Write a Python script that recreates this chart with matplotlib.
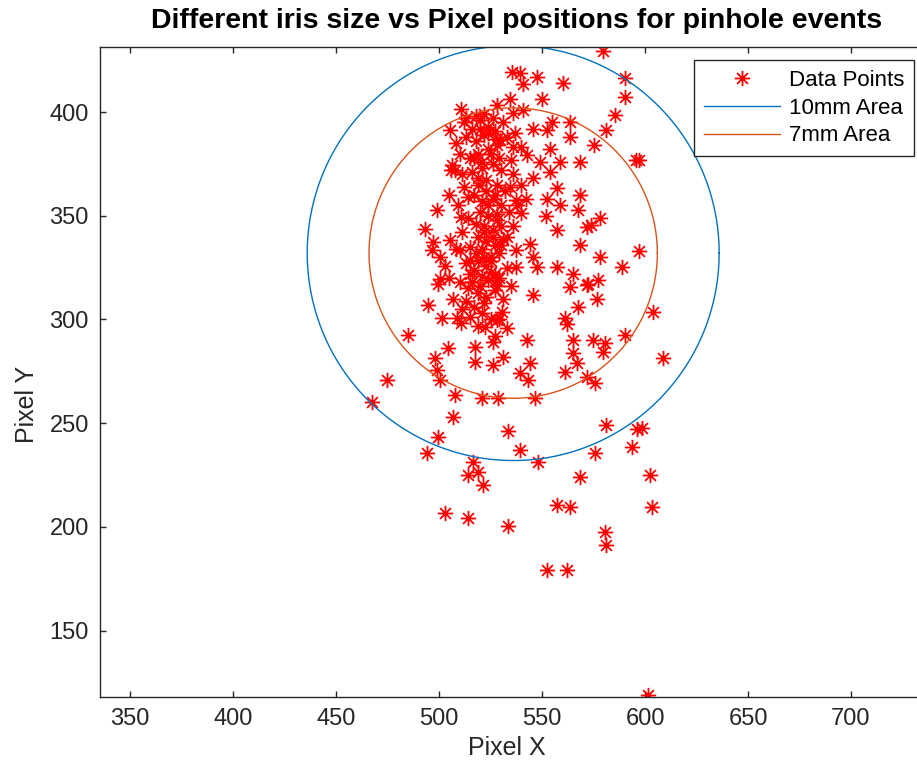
import numpy as np
import matplotlib
matplotlib.use('Agg')
import matplotlib.pyplot as plt
from matplotlib.path import Path

plt.rcParams['font.family'] = ['Liberation Sans', 'DejaVu Sans']

# pinhole event positions (pixels)
px_x = [579.6, 535.3, 539.3, 540.9, 547.4, 534.4, 549.8, 560.3, 528.0, 536.0,
        540.9, 554.7, 563.6, 552.2, 545.7, 563.6, 581.0, 575.3, 568.4, 553.8,
        558.7, 542.5, 549.0, 536.0, 529.6, 590.3, 590.3, 585.4, 595.5, 597.0,
        510.9, 505.3, 506.1, 513.3, 507.7, 514.2, 498.8, 510.9, 493.2, 505.3,
        497.2, 500.4, 496.4, 510.2, 515.0, 500.4, 515.0, 553.8, 545.7, 557.1,
        552.2, 558.7, 568.4, 567.6, 578.1, 571.6, 557.1, 568.4, 578.1, 557.1,
        544.1, 537.6, 545.7, 537.6, 547.4, 565.2, 572.4, 577.3, 537.6, 540.0,
        534.4, 528.0, 574.0, 597.2, 588.6, 499.6, 494.8, 501.2, 508.5, 510.9,
        485.1, 504.5, 498.0, 517.4, 517.4, 498.8, 500.4, 507.7, 520.7, 474.6,
        467.3, 545.7, 563.6, 571.6, 576.5, 567.6, 561.1, 542.5, 565.2, 574.8,
        580.6, 565.2, 579.7, 566.8, 561.1, 544.1, 539.3, 543.3, 571.6, 575.7,
        546.5, 528.8, 531.2, 526.3, 526.3, 522.3, 528.0, 530.4, 604.0, 590.3,
        608.9, 506.9, 499.6, 494.0, 533.6, 539.3, 516.6, 519.0, 514.2, 521.5,
        548.1, 581.3, 596.0, 598.4, 593.5, 575.7, 568.4, 602.4, 557.1, 563.6,
        603.2, 502.9, 514.2, 533.6, 580.6, 581.3, 552.2, 561.9, 601.6,
        # dense core
        512, 516, 520, 524, 513, 518, 522, 527, 531, 508,
        510, 515, 519, 524, 528, 533, 537, 506, 511, 516,
        521, 526, 530, 535, 540, 519, 523, 528, 532, 517,
        521, 526, 530, 534, 524, 528, 522, 526, 530, 519,
        523, 527, 531, 515, 518, 522, 525, 529, 513, 517,
        521, 525, 529, 533, 510, 514, 519, 523, 527, 531,
        535, 517, 521, 525, 513, 507, 505, 503, 508, 511,
        514, 509, 505, 512, 533, 536, 538, 540, 536, 542,
        529, 533, 527, 519, 515, 511, 552, 562,
        518, 522, 526, 520, 524, 528, 517, 521, 525, 529,
        519, 523, 527, 520, 524, 528, 518, 522, 526, 530,
        521, 525, 519, 523, 527, 516, 520, 524, 528, 522]
px_y = [429.5, 419.3, 418.6, 413.7, 417.0, 406.5, 406.5, 414.0, 403.3, 399.3,
        400.9, 395.3, 395.3, 391.3, 392.0, 388.0, 391.5, 384.0, 376.0, 382.4,
        376.0, 379.2, 376.0, 383.2, 386.4, 416.2, 407.3, 398.5, 376.8, 377.0,
        401.6, 391.3, 374.4, 397.3, 372.0, 359.1, 352.7, 349.5, 343.8, 338.2,
        337.4, 330.2, 333.4, 333.4, 328.6, 319.7, 322.1, 371.2, 368.0, 363.2,
        358.3, 355.1, 360.0, 352.7, 348.7, 344.6, 343.1, 335.8, 330.2, 325.4,
        336.6, 333.4, 330.2, 325.4, 325.4, 322.1, 317.3, 318.9, 357.5, 351.1,
        364.0, 318.9, 345.5, 333.0, 325.4, 317.3, 306.9, 300.5, 300.5, 298.1,
        292.5, 286.1, 281.3, 286.8, 279.6, 275.6, 270.8, 263.5, 262.0, 270.8,
        260.3, 311.7, 315.7, 316.6, 310.1, 306.1, 300.5, 290.0, 290.0, 290.0,
        288.5, 283.6, 284.4, 278.8, 274.8, 278.8, 274.0, 270.8, 272.4, 269.2,
        262.0, 262.0, 282.0, 278.0, 289.2, 296.4, 299.7, 303.7, 303.7, 292.5,
        281.3, 253.0, 243.4, 235.4, 246.3, 237.0, 231.4, 226.6, 225.0, 220.2,
        231.4, 249.1, 247.0, 247.8, 238.6, 235.4, 224.2, 225.0, 210.5, 209.7,
        209.7, 206.5, 204.1, 200.4, 197.7, 191.3, 179.2, 179.2, 119.0,
        395, 392, 396, 393, 388, 386, 389, 391, 395, 385,
        380, 378, 380, 382, 384, 388, 390, 372, 370, 371,
        373, 375, 372, 377, 383, 365, 367, 365, 362, 360,
        357, 358, 355, 352, 350, 348, 345, 343, 345, 340,
        338, 336, 339, 335, 332, 330, 328, 332, 327, 324,
        321, 323, 320, 325, 318, 315, 313, 311, 314, 310,
        316, 306, 303, 300, 309, 310, 320, 326, 334, 342,
        349, 355, 360, 364, 340, 345, 355, 365, 370, 358,
        300, 296, 292, 297, 301, 305, 350, 298,
        398, 399, 397, 392, 390, 387, 378, 376, 380, 378,
        368, 362, 360, 352, 355, 351, 346, 342, 340, 336,
        334, 330, 328, 326, 322, 318, 316, 319, 316, 308]

# area circles (center and radius in pixels)
center_x = 536
center_y = 332
r_10mm = 100
r_7mm = 70

x_ticks = [350, 400, 450, 500, 550, 600, 650, 700]
y_ticks = [150, 200, 250, 300, 350, 400]

blue = '#0072BD'
orange = '#D95319'
axcol = '#262626'

# asterisk marker like matlab '*'
d = 0.7071
star = Path([(-1, 0), (1, 0), (0, -1), (0, 1), (-d, -d), (d, d), (-d, d), (d, -d)],
            [Path.MOVETO, Path.LINETO] * 4)

fig = plt.figure(figsize=(9.17, 7.7), dpi=100)
ax = fig.add_axes([100/917, 73/770, 834/917, 650.3/770])

ax.plot(px_x, px_y, linestyle='none', marker=star, ms=11, mew=1.3,
        mec='red', mfc='none', label='Data Points')

t = np.linspace(0, 2*np.pi, 400)
ax.plot(center_x + r_10mm*np.cos(t), center_y + r_10mm*np.sin(t),
        color=blue, lw=1.0, label='10mm Area')
ax.plot(center_x + r_7mm*np.cos(t), center_y + r_7mm*np.sin(t),
        color=orange, lw=1.0, label='7mm Area')

ax.set_xlim(335.4, 740.3)
ax.set_ylim(118, 431.5)
ax.set_xticks(x_ticks)
ax.set_yticks(y_ticks)
ax.tick_params(direction='in', top=True, right=True, length=4, width=1,
               labelsize=17, colors=axcol, pad=8)
for s in ax.spines.values():
    s.set_color(axcol)
    s.set_linewidth(1.0)

fig.text(517/917, 1 - 21/770, 'Different iris size vs Pixel positions for pinhole events',
         ha='center', va='center', fontsize=20.5, fontweight='bold', color='black')
fig.text(507/917, 1 - 748/770, 'Pixel X', ha='center', va='center', fontsize=18, color=axcol)
fig.text(27/917, 1 - 404/770, 'Pixel Y', ha='center', va='center', fontsize=18,
         color=axcol, rotation=90)

leg = ax.legend(loc='upper right', bbox_to_anchor=(914/917, 1 - 60/770),
                bbox_transform=fig.transFigure, fontsize=16, numpoints=1,
                fancybox=False, framealpha=1, edgecolor=axcol, handlelength=3.4,
                handletextpad=0.4, labelspacing=0.3, borderpad=0.45, borderaxespad=0)
leg.get_frame().set_linewidth(1.0)

fig.savefig('out.png', dpi=100)
